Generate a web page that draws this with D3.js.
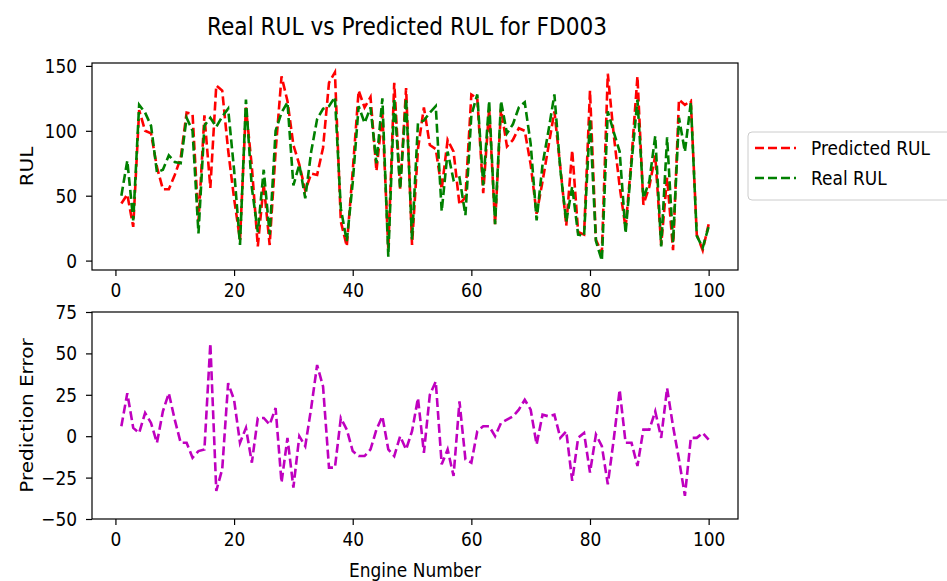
<!DOCTYPE html>
<html>
<head>
<meta charset="utf-8">
<script src="https://cdn.jsdelivr.net/npm/d3@7"></script>
<style>
  body { margin: 0; background: #fff; }
  text { font-family: "DejaVu Sans", sans-serif; fill: #000; }
</style>
</head>
<body>
<svg id="chart" width="947" height="581"></svg>
<script>
// engine numbers on the x axis
var engineNumbers = d3.range(1, 101);

// predicted RUL (red dashed)
var predictedRUL = [44, 51, 26, 116, 100, 98, 72, 55, 55, 66,
  79, 114, 113, 30, 112, 56, 135, 131, 85, 48,
  16, 118, 72, 11, 59, 12, 84, 142, 123, 89,
  74, 54, 67, 66, 87, 137, 145, 30, 11, 69,
  131, 118, 126, 69, 113, 9, 137, 55, 133, 12,
  86, 118, 89, 86, 55, 93, 84, 43, 49, 128,
  125, 52, 117, 28, 117, 88, 93, 102, 100, 74,
  36, 61, 88, 115, 72, 27, 85, 22, 20, 131,
  16, 6, 144, 97, 57, 25, 79, 142, 43, 57,
  81, 12, 64, 8, 124, 120, 123, 20, 8, 28];

// real RUL (green dashed)
var realRUL = [50, 77, 31, 120, 114, 104, 68, 70, 81, 76,
  75, 110, 100, 21, 104, 110, 103, 111, 117, 70,
  12, 124, 56, 22, 70, 20, 100, 114, 122, 58,
  74, 48, 84, 109, 117, 119, 126, 40, 15, 60,
  119, 106, 118, 75, 125, 3, 125, 55, 125, 16,
  106, 108, 114, 119, 38, 84, 62, 64, 35, 112,
  128, 58, 123, 28, 123, 98, 105, 118, 122, 90,
  31, 74, 100, 128, 70, 30, 57, 20, 19, 109,
  15, 0, 115, 99, 84, 21, 75, 124, 48, 61,
  96, 11, 95, 14, 110, 84, 122, 19, 10, 26];

// prediction error (magenta dashed)
var predictionError = [6, 26, 5, 2, 14, 8, -4, 15, 26, 10,
  -4, -4, -13, -9, -8, 56, -33, -20, 32, 22,
  -4, 5, -16, 11, 11, 7, 17, -28, -1, -31,
  0, -6, 17, 43, 30, -19, -19, 11, 4, -9,
  -12, -12, -8, 4, 12, -8, -12, 0, -8, 3,
  23, -10, 25, 33, -17, -8, -24, 21, -14, -16,
  3, 6, 6, 0, 8, 10, 12, 16, 22, 16,
  -5, 13, 12, 13, -1, 3, -27, -1, 2, -22,
  1, -6, -29, -2, 28, -4, -4, -18, 4, 4,
  15, -1, 29, 6, -14, -36, -1, -1, 2, -2];

var xTicks = [0, 20, 40, 60, 80, 100];
var rulTicks = [0, 50, 100, 150];
var errorTicks = [-50, -25, 0, 25, 50, 75];

var svg = d3.select("#chart");
var squeeze = 0.85;     // the reference text is a bit narrow
var fontSize = 20;

var frame = {left: 92, right: 738};
var topBox = {top: 63, bottom: 270};
var botBox = {top: 312, bottom: 519};

// x scale shared by both plots, 5% padding like matplotlib
var xPad = (d3.max(engineNumbers) - d3.min(engineNumbers)) * 0.05;
var x = d3.scaleLinear()
  .domain([d3.min(engineNumbers) - xPad, d3.max(engineNumbers) + xPad])
  .range([frame.left, frame.right]);

var allRUL = predictedRUL.concat(realRUL);
var yPad = (d3.max(allRUL) - d3.min(allRUL)) * 0.05;
var yTop = d3.scaleLinear()
  .domain([d3.min(allRUL) - yPad, d3.max(allRUL) + yPad])
  .range([topBox.bottom, topBox.top]);

var yBot = d3.scaleLinear()
  .domain([-50, 75])
  .range([botBox.bottom, botBox.top]);

function addText(x0, y0, str, size, anchor, rotated) {
  var t = svg.append("text")
    .attr("transform", "translate(" + x0 + "," + y0 + ") scale(" + squeeze + ",1)" + (rotated ? " rotate(-90)" : ""))
    .attr("text-anchor", anchor)
    .style("font-size", size + "px")
    .text(str);
  return t;
}

function drawAxes(yScale, box, yTicks) {
  var xAxis = d3.axisBottom(x).tickValues(xTicks).tickSize(6).tickPadding(7).tickSizeOuter(0);
  var yAxis = d3.axisLeft(yScale).tickValues(yTicks).tickSize(6).tickPadding(9).tickSizeOuter(0);

  var gx = svg.append("g")
    .attr("transform", "translate(0," + box.bottom + ")")
    .call(xAxis);
  var gy = svg.append("g")
    .attr("transform", "translate(" + frame.left + ",0)")
    .call(yAxis);

  [gx, gy].forEach(function(g) {
    g.select(".domain").remove();
    g.selectAll("line").attr("stroke", "#000").attr("stroke-width", 1.2);
    g.selectAll("text")
      .style("font-size", fontSize + "px")
      .attr("fill", "#000");
  });
  // narrow the tick labels
  gy.selectAll("text")
    .attr("x", -15 / squeeze)
    .attr("transform", "scale(" + squeeze + ",1)")
    .text(function(d) { return d < 0 ? "\u2212" + Math.abs(d) : d; });
  gx.selectAll(".tick text")
    .attr("x", 0)
    .attr("transform", "scale(" + squeeze + ",1)");
}

function drawLine(values, yScale, color) {
  var line = d3.line()
    .x(function(d, i) { return x(engineNumbers[i]); })
    .y(function(d) { return yScale(d); });
  svg.append("path")
    .datum(values)
    .attr("d", line)
    .attr("fill", "none")
    .attr("stroke", color)
    .attr("stroke-width", 2.6)
    .attr("stroke-dasharray", "9,4");
}

// top plot
drawLine(predictedRUL, yTop, "#ff0000");
drawLine(realRUL, yTop, "#008000");
drawAxes(yTop, topBox, rulTicks);

// bottom plot
drawLine(predictionError, yBot, "#bf00bf");
drawAxes(yBot, botBox, errorTicks);

// frames
[topBox, botBox].forEach(function(b) {
  svg.append("rect")
    .attr("x", frame.left).attr("y", b.top)
    .attr("width", frame.right - frame.left)
    .attr("height", b.bottom - b.top)
    .attr("fill", "none")
    .attr("stroke", "#000")
    .attr("stroke-width", 1.2);
});

// titles and labels
addText(407, 35, "Real RUL vs Predicted RUL for FD003", 25.5, "middle", false);
addText(33, (topBox.top + topBox.bottom) / 2, "RUL", fontSize, "middle", true);
addText(33, (botBox.top + botBox.bottom) / 2, "Prediction Error", fontSize, "middle", true);
addText((frame.left + frame.right) / 2, 577, "Engine Number", fontSize, "middle", false);

// legend
var legend = svg.append("g");
legend.append("rect")
  .attr("x", 748).attr("y", 132)
  .attr("width", 230).attr("height", 68)
  .attr("rx", 4)
  .attr("fill", "#fff")
  .attr("stroke", "#cccccc")
  .attr("stroke-width", 1);

var legendItems = [
  {label: "Predicted RUL", color: "#ff0000"},
  {label: "Real RUL", color: "#008000"}
];
legendItems.forEach(function(item, i) {
  var ly = 148 + i * 30;
  legend.append("line")
    .attr("x1", 755).attr("x2", 796)
    .attr("y1", ly).attr("y2", ly)
    .attr("stroke", item.color)
    .attr("stroke-width", 2.6)
    .attr("stroke-dasharray", "9,4");
  addText(811, ly + 7, item.label, fontSize, "start", false);
});
</script>
</body>
</html>
